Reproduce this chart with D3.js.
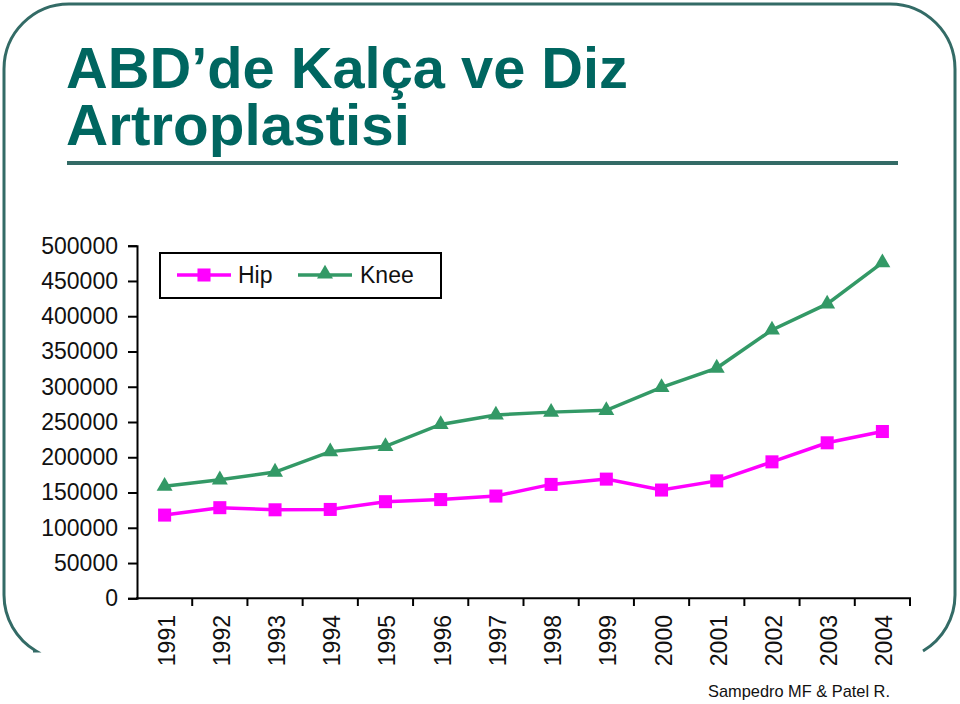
<!DOCTYPE html>
<html>
<head>
<meta charset="utf-8">
<title>ABD'de Kalça ve Diz Artroplastisi</title>
<script src="https://cdn.jsdelivr.net/npm/d3@7"></script>
<style>
	body { margin: 0; background: #fff; }
	svg text { font-family: Arial, "Liberation Sans", sans-serif; }
</style>
</head>
<body>
<div id="chart"></div>
<script>

	// data
	var years = ["1991","1992","1993","1994","1995","1996","1997","1998","1999","2000","2001","2002","2003","2004"];
	var hip  = [118000,128500,125500,126000,137000,140000,145000,161500,169000,153500,166500,193500,220500,236500];
	var knee = [159000,168000,179000,208000,215500,246500,260000,264000,266500,299000,326500,380500,417500,476000];
	var y_ticks = [0,50000,100000,150000,200000,250000,300000,350000,400000,450000,500000];

	var W = 960, H = 704;
	var frame_col = "#336b66";
	var title_col = "#006660";
	var hip_col = "#ff00ff";
	var knee_col = "#339966";

	var svg = d3.select("#chart").append("svg")
		.attr("width", W)
		.attr("height", H);

	// slide frame (bottom edge left open)
	var r = 65;
	var frame = d3.path();
	frame.moveTo(33, 651);
	frame.arc(4 + r, 595, r, Math.PI - Math.asin(56 / r), Math.PI, false);
	frame.lineTo(4, 4 + r);
	frame.arc(4 + r, 4 + r, r, Math.PI, 1.5 * Math.PI, false);
	frame.lineTo(955 - r, 4);
	frame.arc(955 - r, 4 + r, r, 1.5 * Math.PI, 2 * Math.PI, false);
	frame.lineTo(955, 595);
	frame.arc(955 - r, 595, r, 0, Math.asin(56 / r), false);
	svg.append("path")
		.attr("d", frame.toString())
		.attr("fill", "none")
		.attr("stroke", frame_col)
		.attr("stroke-width", 3);

	// title
	var title = svg.append("text")
		.attr("font-size", "57px")
		.attr("font-weight", "bold")
		.attr("fill", title_col);
	title.append("tspan").attr("x", 66).attr("y", 88)
		.attr("textLength", 562).attr("lengthAdjust", "spacingAndGlyphs")
		.text("ABD’de Kalça ve Diz");
	title.append("tspan").attr("x", 66).attr("y", 145)
		.attr("textLength", 344).attr("lengthAdjust", "spacingAndGlyphs")
		.text("Artroplastisi");

	svg.append("line")
		.attr("x1", 67).attr("x2", 898)
		.attr("y1", 163).attr("y2", 163)
		.attr("stroke", frame_col)
		.attr("stroke-width", 4);

	// scales
	var x_scale = d3.scaleBand().domain(years).range([137, 910]);
	var y_scale = d3.scaleLinear().domain([0, 500000]).range([598.3, 245.7]);

	// y axis
	var y_axis = svg.append("g")
		.attr("transform", "translate(137,0)")
		.call(d3.axisLeft(y_scale).tickValues(y_ticks).tickSize(9).tickPadding(10).tickFormat(d3.format("d")));
	y_axis.select(".domain").attr("stroke", "#000").attr("stroke-width", 2);
	y_axis.selectAll(".tick line").attr("stroke", "#000").attr("stroke-width", 2);
	y_axis.selectAll(".tick text")
		.attr("font-size", "23px")
		.attr("font-family", "Arial, 'Liberation Sans', sans-serif")
		.attr("fill", "#111");

	// x axis: ticks on the band edges, labels rotated
	svg.append("line")
		.attr("x1", 136).attr("x2", 911)
		.attr("y1", 598.3).attr("y2", 598.3)
		.attr("stroke", "#000").attr("stroke-width", 2);
	var edges = years.map(function(d) { return x_scale(d) + x_scale.bandwidth(); });
	svg.selectAll(".x-tick")
		.data(edges)
		.enter()
		.append("line")
		.attr("class", "x-tick")
		.attr("x1", function(d) { return d; })
		.attr("x2", function(d) { return d; })
		.attr("y1", 598.3).attr("y2", 606)
		.attr("stroke", "#000").attr("stroke-width", 2);
	svg.selectAll(".x-label")
		.data(years)
		.enter()
		.append("text")
		.attr("class", "x-label")
		.attr("transform", function(d) {
			return "translate(" + (x_scale(d) + x_scale.bandwidth() / 2 + 10) + ",615) rotate(-90)";
		})
		.attr("text-anchor", "end")
		.attr("font-size", "23px")
		.attr("fill", "#111")
		.text(function(d) { return d; });

	// series
	function cx(d, i) { return x_scale(years[i]) + x_scale.bandwidth() / 2; }

	var line = d3.line()
		.x(function(d, i) { return cx(d, i); })
		.y(function(d) { return y_scale(d); });

	svg.append("path")
		.datum(knee)
		.attr("d", line)
		.attr("fill", "none")
		.attr("stroke", knee_col)
		.attr("stroke-width", 3.5);

	svg.append("path")
		.datum(hip)
		.attr("d", line)
		.attr("fill", "none")
		.attr("stroke", hip_col)
		.attr("stroke-width", 3.5);

	var tri = d3.symbol().type(d3.symbolTriangle).size(110);
	var sq = d3.symbol().type(d3.symbolSquare).size(170);

	svg.selectAll(".knee-pt")
		.data(knee)
		.enter()
		.append("path")
		.attr("class", "knee-pt")
		.attr("d", tri)
		.attr("transform", function(d, i) { return "translate(" + cx(d, i) + "," + y_scale(d) + ")"; })
		.attr("fill", knee_col);

	svg.selectAll(".hip-pt")
		.data(hip)
		.enter()
		.append("path")
		.attr("class", "hip-pt")
		.attr("d", sq)
		.attr("transform", function(d, i) { return "translate(" + cx(d, i) + "," + y_scale(d) + ")"; })
		.attr("fill", hip_col);

	// legend
	var leg = svg.append("g");
	leg.append("rect")
		.attr("x", 160).attr("y", 253)
		.attr("width", 281).attr("height", 45)
		.attr("fill", "#fff")
		.attr("stroke", "#000")
		.attr("stroke-width", 2);
	leg.append("line")
		.attr("x1", 177).attr("x2", 231).attr("y1", 275).attr("y2", 275)
		.attr("stroke", hip_col).attr("stroke-width", 3.5);
	leg.append("path")
		.attr("d", sq)
		.attr("transform", "translate(204,275)")
		.attr("fill", hip_col);
	leg.append("text")
		.attr("x", 238).attr("y", 283)
		.attr("font-size", "23px")
		.attr("fill", "#111")
		.text("Hip");
	leg.append("line")
		.attr("x1", 298).attr("x2", 352).attr("y1", 275).attr("y2", 275)
		.attr("stroke", knee_col).attr("stroke-width", 3.5);
	leg.append("path")
		.attr("d", tri)
		.attr("transform", "translate(325,274)")
		.attr("fill", knee_col);
	leg.append("text")
		.attr("x", 360).attr("y", 283)
		.attr("font-size", "23px")
		.attr("fill", "#111")
		.text("Knee");

	// source
	svg.append("text")
		.attr("x", 890).attr("y", 697)
		.attr("text-anchor", "end")
		.attr("font-size", "17px")
		.attr("textLength", 182)
		.attr("lengthAdjust", "spacingAndGlyphs")
		.attr("fill", "#111")
		.text("Sampedro MF & Patel R.");

</script>
</body>
</html>
